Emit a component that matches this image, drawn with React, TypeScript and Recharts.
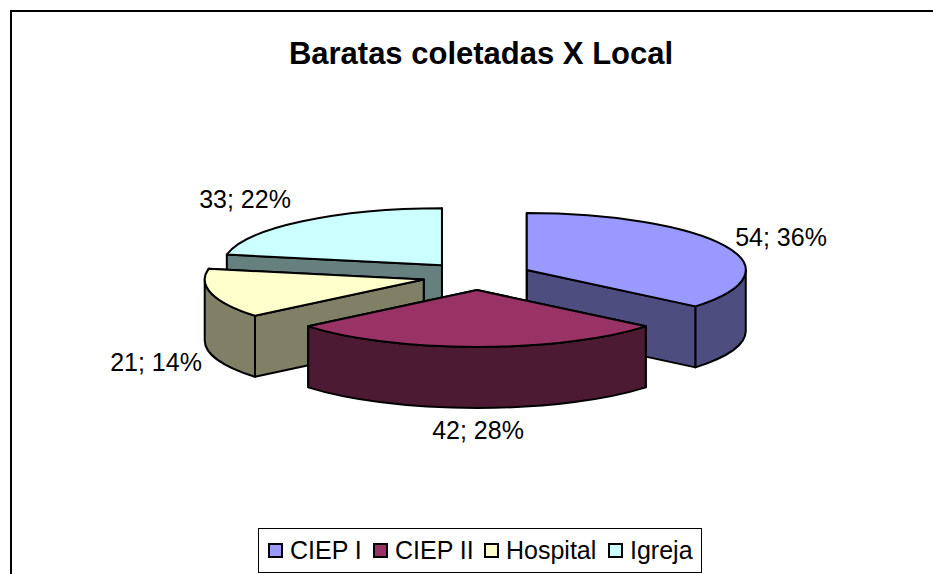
import { PieChart, Pie } from 'recharts';

const categories = ['CIEP I', 'CIEP II', 'Hospital', 'Igreja'];
const counts = [54, 42, 21, 33];
const topColors = ['#9999FF', '#993366', '#FFFFCC', '#CCFFFF'];
const wallColors = ['#4D4D80', '#4D1A33', '#808066', '#668080'];

// paint order, going counter-clockwise from the far edge of CIEP I, so the front slice lands last
const paintOrder = [0, 3, 2, 1];

const FONT = '"Liberation Sans", Arial, sans-serif';
const CX = 477;
const CY = 276;
const RX = 219;
const RY = 57;
const DEPTH = 61;
const EXPLODE_X = 55;
const EXPLODE_Y = 14;

const labelSpots: Record<string, [number, number]> = {
  'CIEP I': [781, 246],
  'CIEP II': [478, 439],
  Hospital: [156, 371],
  Igreja: [245, 208],
};

const legendLefts = [9, 114, 225, 349];

const pieData = paintOrder.map((i) => ({
  name: categories[i],
  value: counts[i],
  fill: topColors[i],
  wall: wallColors[i],
}));

const rad = (deg: number) => (deg * Math.PI) / 180;

const Slice3D = (props: any) => {
  const { startAngle, endAngle, midAngle, fill, wall } = props;
  const ox = CX + EXPLODE_X * Math.cos(rad(midAngle));
  const oy = CY - EXPLODE_Y * Math.sin(rad(midAngle));
  const pt = (a: number, drop = 0) => `${ox + RX * Math.cos(rad(a))} ${oy - RY * Math.sin(rad(a)) + drop}`;
  const apex = `${ox} ${oy}`;
  const apexLow = `${ox} ${oy + DEPTH}`;
  const large = endAngle - startAngle > 180 ? 1 : 0;

  // only the part of the rim on the lower half of the ellipse faces the viewer
  const rims: [number, number][] = [];
  [-360, 0, 360].forEach((k) => {
    const a = Math.max(startAngle, 180 + k);
    const b = Math.min(endAngle, 360 + k);
    if (b > a) rims.push([a, b]);
  });

  const common = { stroke: '#000', strokeWidth: 2, strokeLinejoin: 'round' as const };
  return (
    <g>
      {[startAngle, endAngle].map((a: number) => (
        <path key={a} d={`M${apex} L${pt(a)} L${pt(a, DEPTH)} L${apexLow} Z`} fill={wall} {...common} />
      ))}
      {rims.map(([a, b]) => (
        <path
          key={a}
          d={`M${pt(a)} A${RX} ${RY} 0 0 0 ${pt(b)} L${pt(b, DEPTH)} A${RX} ${RY} 0 0 1 ${pt(a, DEPTH)} Z`}
          fill={wall}
          {...common}
        />
      ))}
      <path d={`M${apex} L${pt(startAngle)} A${RX} ${RY} 0 ${large} 0 ${pt(endAngle)} Z`} fill={fill} {...common} />
    </g>
  );
};

const renderLabel = (props: any) => {
  const [x, y] = labelSpots[props.name];
  return (
    <text x={x} y={y} textAnchor="middle" fontFamily={FONT} fontSize={25} fill="#000">
      {`${props.value}; ${Math.round(props.percent * 100)}%`}
    </text>
  );
};

export default function App() {
  return (
    <div style={{ position: 'absolute', left: 0, top: 0, width: 933, height: 574, overflow: 'hidden', background: '#fff', fontFamily: FONT }}>
      <div style={{ position: 'absolute', left: 10, top: 10, width: 923, height: 564, borderLeft: '2px solid #000', borderTop: '2px solid #000', boxSizing: 'border-box' }} />
      <div style={{ position: 'absolute', left: 0, top: 36, width: 962, textAlign: 'center', fontSize: 31, fontWeight: 'bold', lineHeight: '36px' }}>
        Baratas coletadas X Local
      </div>
      <PieChart width={933} height={574} margin={{ top: 0, right: 0, bottom: 0, left: 0 }} style={{ position: 'absolute', left: 0, top: 0 }}>
        <Pie
          data={pieData}
          dataKey="value"
          nameKey="name"
          cx={CX}
          cy={CY}
          outerRadius={RX}
          startAngle={-39.6}
          endAngle={320.4}
          paddingAngle={0}
          stroke="#000"
          shape={Slice3D}
          label={renderLabel}
          labelLine={false}
          isAnimationActive={false}
        />
      </PieChart>
      <div style={{ position: 'absolute', left: 258, top: 528, width: 444, height: 45, border: '1px solid #000', boxSizing: 'border-box', background: '#fff' }}>
        {categories.map((name, i) => (
          <div key={name} style={{ position: 'absolute', left: legendLefts[i], top: 0, height: 43, display: 'flex', alignItems: 'center', fontSize: 25, whiteSpace: 'nowrap' }}>
            <span style={{ width: 15, height: 15, boxSizing: 'border-box', background: topColors[i], border: '2px solid #000', marginRight: 7, display: 'inline-block' }} />
            {name}
          </div>
        ))}
      </div>
    </div>
  );
}
